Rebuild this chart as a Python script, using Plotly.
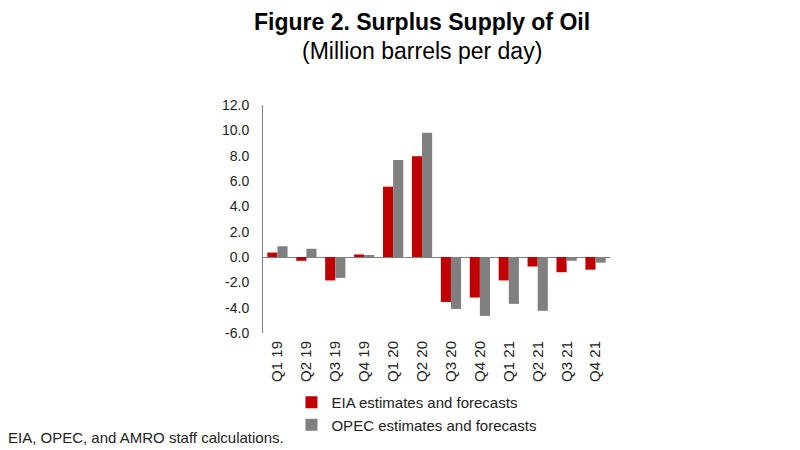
import plotly.graph_objects as go

quarters = ["Q1 19", "Q2 19", "Q3 19", "Q4 19", "Q1 20", "Q2 20",
            "Q3 20", "Q4 20", "Q1 21", "Q2 21", "Q3 21", "Q4 21"]
eia = [0.35, -0.3, -1.85, 0.2, 5.55, 7.95, -3.55, -3.2, -1.85, -0.75, -1.2, -1.0]
opec = [0.85, 0.65, -1.65, 0.1, 7.65, 9.8, -4.1, -4.65, -3.7, -4.25, -0.3, -0.45]
y_ticks = [-6, -4, -2, 0, 2, 4, 6, 8, 10, 12]
y_tick_text = ["%.1f" % v for v in y_ticks]  # keeps the plain hyphen for negatives

font_name = "Liberation Sans, Arial, sans-serif"
txt_color = "#222222"

fig = go.Figure()
fig.add_trace(go.Bar(x=quarters, y=eia, name="EIA estimates and forecasts",
                     marker=dict(color="#C00000", line=dict(width=0))))
fig.add_trace(go.Bar(x=quarters, y=opec, name="OPEC estimates and forecasts",
                     marker=dict(color="#808080", line=dict(width=0))))

# page has an 8px body margin, so margins are shifted by that much
fig.update_layout(
    width=800, height=450,
    paper_bgcolor="white", plot_bgcolor="white",
    font=dict(family=font_name, color=txt_color, size=13),
    margin=dict(l=255, r=198, t=97, b=125),
    barmode="group", bargap=0.3, bargroupgap=0,
    showlegend=True,
    legend=dict(x=0.082, y=-0.232, xanchor="left", yanchor="top",
                font=dict(size=15, color=txt_color), tracegroupgap=0,
                itemwidth=30, bgcolor="rgba(0,0,0,0)"),
)
fig.update_xaxes(tickangle=-90, showline=False, ticks="", showgrid=False,
                 ticklabelstandoff=4,
                 tickfont=dict(size=15, color=txt_color))
fig.update_yaxes(range=[-6, 12], tickvals=y_ticks, ticktext=y_tick_text,
                 showgrid=False, showline=True, linecolor="#808080", linewidth=1,
                 zeroline=True, zerolinecolor="#808080", zerolinewidth=1,
                 ticks="", ticklabelstandoff=10,
                 tickfont=dict(size=14, color=txt_color))

fig.add_annotation(text="<b>Figure 2. Surplus Supply of Oil</b>",
                   xref="paper", yref="paper", x=0.458, y=1.364,
                   xanchor="center", yanchor="middle", showarrow=False,
                   font=dict(size=23, color="black"))
fig.add_annotation(text="(Million barrels per day)",
                   xref="paper", yref="paper", x=0.458, y=1.236,
                   xanchor="center", yanchor="middle", showarrow=False,
                   font=dict(size=23, color="black"))
fig.add_annotation(text="EIA, OPEC, and AMRO staff calculations.",
                   xref="paper", yref="paper", x=-0.74, y=-0.46,
                   xanchor="left", yanchor="middle", showarrow=False,
                   font=dict(size=15, color=txt_color))

fig.write_html("out.html")
